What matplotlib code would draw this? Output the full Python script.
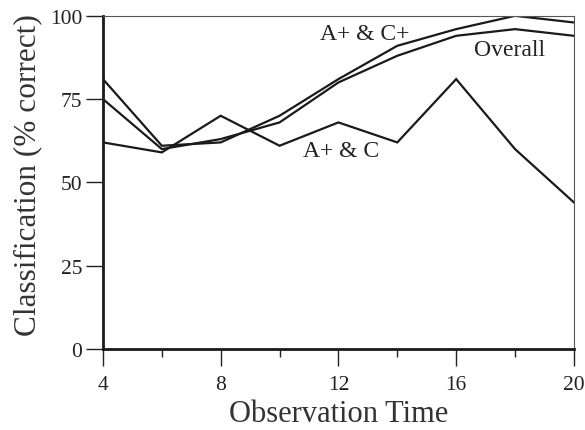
import matplotlib
matplotlib.use('Agg')
import matplotlib.pyplot as plt

plt.rcParams['font.family'] = ['Liberation Serif', 'DejaVu Serif']

obs_time = [4, 6, 8, 10, 12, 14, 16, 18, 20]
a_plus_c_plus = [81, 61, 62, 70, 81, 91, 96, 100, 98]
overall = [75, 60, 63, 68, 80, 88, 94, 96, 94]
a_plus_c = [62, 59, 70, 61, 68, 62, 81, 60, 44]

series_labels = ['A+ & C+', 'Overall', 'A+ & C']
label_pos = [(12.9, 94.6), (17.8, 89.8), (12.1, 59.5)]

x_major = [4, 8, 12, 16, 20]
x_minor = [6, 10, 14, 18]
y_ticks = [0, 25, 50, 75, 100]

fig = plt.figure(figsize=(5.85, 4.31), dpi=100)
ax = fig.add_axes([0.176, 0.188, 0.805, 0.773])

for vals in [a_plus_c_plus, overall, a_plus_c]:
    ax.plot(obs_time, vals, color='#1a1a1a', linewidth=1.6, solid_joinstyle='miter')

for txt, (x, y) in zip(series_labels, label_pos):
    ax.text(x, y, txt, fontsize=17, ha='center', va='center', color='#222222')

ax.set_xlim(4, 20)
ax.set_ylim(0, 100)
ax.set_xticks(x_major)
ax.set_xticks(x_minor, minor=True)
ax.set_yticks(y_ticks)
ax.tick_params(axis='both', which='major', direction='out', length=12, width=1,
               labelsize=15.5, colors='#222222')
ax.tick_params(axis='x', which='major', pad=7)
ax.tick_params(axis='y', which='major', pad=3)
ax.tick_params(axis='x', which='minor', direction='out', length=6, width=1, colors='#222222')

ax.spines['left'].set_linewidth(2)
ax.spines['bottom'].set_linewidth(2)
ax.spines['left'].set_color('#1a1a1a')
ax.spines['bottom'].set_color('#1a1a1a')
ax.spines['top'].set_linewidth(0.8)
ax.spines['right'].set_linewidth(0.8)
ax.spines['top'].set_color('#555555')
ax.spines['right'].set_color('#555555')

ax.set_xlabel('Observation Time', fontsize=22, color='#333333', labelpad=3)
ax.set_ylabel('Classification (% correct)', fontsize=22.5, color='#333333')
ax.yaxis.set_label_coords(-0.128, 0.525)

fig.savefig('out.png', dpi=100)
